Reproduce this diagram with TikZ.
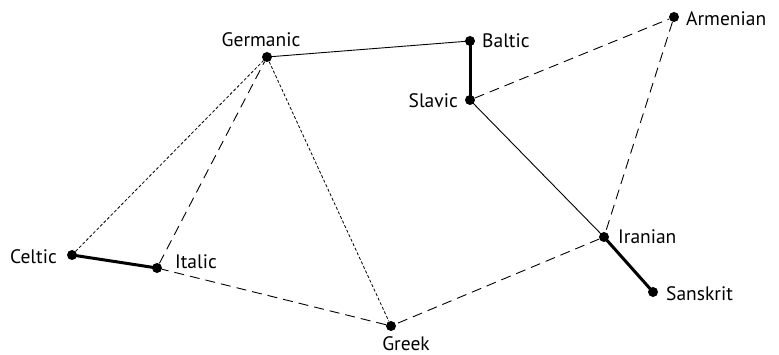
\documentclass[tikz,border=0pt]{standalone}
\usepackage{fontspec}
\setmainfont{PT Sans}
\begin{document}
\begin{tikzpicture}[x=1pt,y=-1pt,
  dot/.style={circle,fill=black,inner sep=0pt,minimum size=10pt},
  lbl/.style={inner sep=0pt,font=\fontsize{19.5}{22}\selectfont},
  thin line/.style={line width=0.9pt},
  thick line/.style={line width=3pt},
  long dash/.style={line width=0.9pt,dash pattern=on 10pt off 6pt},
  short dash/.style={line width=0.8pt,dash pattern=on 3pt off 2pt}]
\useasboundingbox (0,0) rectangle (779,355);
\node[dot] (ger) at (267,57) {};
\node[dot] (bal) at (470,41) {};
\node[dot] (sla) at (470,100) {};
\node[dot] (arm) at (674,17) {};
\node[dot] (cel) at (72,255) {};
\node[dot] (ita) at (157,268) {};
\node[dot] (gre) at (391,326) {};
\node[dot] (ira) at (604,237) {};
\node[dot] (san) at (653,292) {};
\node[lbl] (lger) at (261,40) {Germanic};
\node[lbl,anchor=west] (lbal) at (482,41) {Baltic};
\node[lbl,anchor=east] (lsla) at (458,101) {Slavic};
\node[lbl,anchor=west] (larm) at (686,19) {Armenian};
\node[lbl,anchor=east] (lcel) at (57,257) {Celtic};
\node[lbl,anchor=west] (lita) at (175,262) {Italic};
\node[lbl] (lgre) at (406,344) {Greek};
\node[lbl,anchor=west] (lira) at (618,237) {Iranian};
\node[lbl,anchor=west] (lsan) at (666,294) {Sanskrit};
\draw[thin line] (ger.center) -- (bal.center);
\draw[thin line] (sla.center) -- (ira.center);
\draw[thick line] (bal.center) -- (sla.center);
\draw[thick line] (ira.center) -- (san.center);
\draw[thick line] (cel.center) -- (ita.center);
\draw[long dash] (sla) -- (arm);
\draw[long dash] (arm) -- (ira);
\draw[long dash] (ira) -- (gre);
\draw[long dash] (gre) -- (ita);
\draw[long dash] (ita) -- (ger);
\draw[short dash] (cel) -- (ger);
\draw[short dash] (ger) -- (gre);
\end{tikzpicture}
\end{document}
